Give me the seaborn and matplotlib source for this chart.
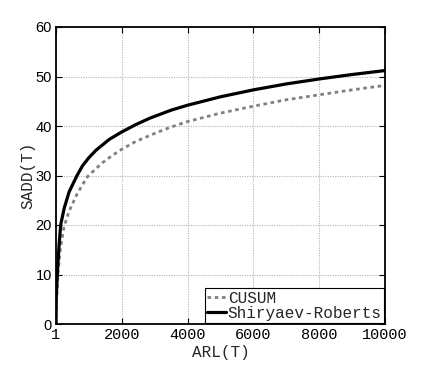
import numpy as np
import pandas as pd
import matplotlib
matplotlib.use("Agg")
import matplotlib.pyplot as plt
import seaborn as sns

# Values
sr_arl = [1, 8, 40, 90, 142, 250, 400, 640, 810, 1000, 1216, 1620, 2000, 2430, 2860,
          3500, 4000, 5000, 6000, 7000, 8000, 9000, 10000]
sr_sadd = [0, 5, 10, 15.5, 20, 23.4, 26.7, 30, 32.0, 33.6, 35.1, 37.3, 38.8, 40.3, 41.6,
           43.2, 44.2, 45.9, 47.3, 48.5, 49.5, 50.4, 51.2]

cusum_arl = [1, 10, 60, 130, 243, 400, 628, 811, 963, 1200, 1418, 1700, 2000, 2430, 3000,
             3500, 4000, 5000, 6000, 7000, 8000, 9000, 10000]
cusum_sadd = [0, 4, 10, 15, 19.6, 22.8, 26.1, 28.2, 29.8, 31.3, 32.6, 34.0, 35.3, 36.9, 38.5,
              39.8, 40.9, 42.6, 44.0, 45.3, 46.3, 47.3, 48.2]

x_ticks = [1, 2000, 4000, 6000, 8000, 10000]
y_ticks = [0, 10, 20, 30, 40, 50, 60]

df = pd.concat([
    pd.DataFrame({"ARL": cusum_arl, "SADD": cusum_sadd, "method": "CUSUM"}),
    pd.DataFrame({"ARL": sr_arl, "SADD": sr_sadd, "method": "Shiryaev-Roberts"}),
])

sns.set_style("ticks")
plt.rcParams["font.family"] = ["Liberation Sans", "DejaVu Sans"]
mono = ["Liberation Mono", "DejaVu Sans Mono"]

fig = plt.figure(figsize=(4.27, 3.65), dpi=100)
ax = fig.add_axes([56 / 427, 1 - 324 / 365, 329 / 427, 297 / 365])

cu = df[df["method"] == "CUSUM"]
sr = df[df["method"] == "Shiryaev-Roberts"]
sns.lineplot(data=cu, x="ARL", y="SADD", ax=ax, color="0.5", lw=2.0,
             label="CUSUM", sort=False, estimator=None)
ax.lines[-1].set_dashes((1.3, 1.3))
ax.lines[-1].set_dash_capstyle("butt")
sns.lineplot(data=sr, x="ARL", y="SADD", ax=ax, color="black", lw=2.3,
             label="Shiryaev-Roberts", sort=False, estimator=None)

ax.set_xlim(1, 10000)
ax.set_ylim(0, 60)
ax.set_xticks(x_ticks)
ax.set_yticks(y_ticks)
ax.set_xticklabels([str(t) for t in x_ticks], family=mono, fontsize=11)
ax.set_yticklabels([str(t) for t in y_ticks], fontsize=10.5)
ax.tick_params(direction="in", length=4, width=0.8, top=True, right=True, pad=3,
               colors="black")
ax.grid(True, color="#b4b4b4", linestyle=(0, (1, 1.2)), linewidth=0.8)
for s in ax.spines.values():
    s.set_linewidth(1.3)
    s.set_color("black")

ax.set_xlabel("ARL(T)", family=mono, fontsize=11.5, labelpad=2)
ax.set_ylabel("SADD(T)", family=mono, fontsize=11.5, labelpad=0)

leg = ax.legend(loc="lower right", prop={"family": mono, "size": 11.5},
                frameon=True, fancybox=False, borderaxespad=0.05, borderpad=0.15,
                handlelength=1.2, handletextpad=0.1, labelspacing=0.0)
leg.get_frame().set_edgecolor("black")
leg.get_frame().set_linewidth(0.8)
leg.get_frame().set_alpha(1)

fig.savefig("out.png", dpi=100)
